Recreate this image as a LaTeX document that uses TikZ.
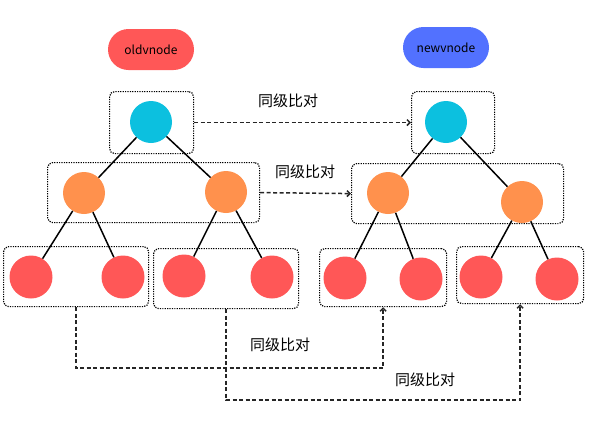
\documentclass[tikz,border=0pt]{standalone}
\usepackage{fontspec}
\setmainfont{Noto Sans CJK SC}
\usetikzlibrary{arrows.meta}
\definecolor{cred}{HTML}{FF5757}
\definecolor{cblue}{HTML}{5271FF}
\definecolor{corange}{HTML}{FF914D}
\definecolor{ccyan}{HTML}{0CC0DF}
\tikzset{
  pill/.style={draw=none, rounded corners=20.5pt, minimum width=86pt, minimum height=41pt, inner sep=0pt, font=\fontsize{12}{14}\selectfont},
  dotbox/.style={draw=black, line width=1.2pt, dash pattern=on 1.2pt off 1.2pt, rounded corners=5pt, anchor=north west, inner sep=0pt},
  dot/.style={circle, draw=none, inner sep=0pt, minimum size=42pt},
  leaf/.style={circle, fill=cred, draw=none, inner sep=0pt, minimum size=43pt},
  tedge/.style={line width=1.5pt, black},
  cmp/.style={line width=1.5pt, black!85, dash pattern=on 4pt off 2.5pt, -{Straight Barb[length=3pt,width=6pt]}},
  lbl/.style={font=\fontsize{15}{17}\selectfont, inner sep=0pt}
}
\begin{document}
\begin{tikzpicture}[x=1pt,y=-1pt]
\useasboundingbox (0,0) rectangle (589,421);
% pills
\node[pill, fill=cred] (old) at (151,49.5) {oldvnode};
\node[pill, fill=cblue] (new) at (446,47.5) {newvnode};
% dotted boxes
\node[dotbox, minimum width=84pt, minimum height=62pt] (rb1) at (109,91) {};
\node[dotbox, minimum width=212pt, minimum height=60pt] (lb1) at (47,162) {};
\node[dotbox, minimum width=83pt, minimum height=62pt] (rb2) at (411,91) {};
\node[dotbox, minimum width=212pt, minimum height=60pt] (lb2) at (351,163) {};
\node[dotbox, minimum width=145pt, minimum height=60pt] (b1) at (3,246) {};
\node[dotbox, minimum width=145pt, minimum height=60pt] (b2) at (153,248) {};
\node[dotbox, minimum width=127pt, minimum height=58pt] (b3) at (319,248) {};
\node[dotbox, minimum width=127pt, minimum height=57pt] (b4) at (456,246) {};
% old tree
\node[dot, fill=ccyan] (or) at (151,122) {};
\node[dot, fill=corange] (oa) at (84,193) {};
\node[dot, fill=corange] (ob) at (226,192) {};
\node[leaf] (l1) at (31,277) {};
\node[leaf] (l2) at (123,277) {};
\node[leaf] (l3) at (184,276) {};
\node[leaf] (l4) at (272,277) {};
% new tree
\node[dot, fill=ccyan] (nr) at (446,122) {};
\node[dot, fill=corange] (na) at (388,193) {};
\node[dot, fill=corange] (nb) at (522,202) {};
\node[leaf] (l5) at (345,278) {};
\node[leaf] (l6) at (421,279) {};
\node[leaf] (l7) at (481,277) {};
\node[leaf] (l8) at (557,279) {};
% tree edges
\draw[tedge] (or) -- (oa);
\draw[tedge] (or) -- (ob);
\draw[tedge] (oa) -- (l1);
\draw[tedge] (oa) -- (l2);
\draw[tedge] (ob) -- (l3);
\draw[tedge] (ob) -- (l4);
\draw[tedge] (nr) -- (na);
\draw[tedge] (nr) -- (nb);
\draw[tedge] (na) -- (l5);
\draw[tedge] (na) -- (l6);
\draw[tedge] (nb) -- (l7);
\draw[tedge] (nb) -- (l8);
% comparison connectors
\draw[cmp] (rb1.east) -- (rb2.west);
\draw[cmp] (lb1.east) -- (lb2.west);
\draw[cmp] (b1.south) -- ++(0,61) -| (b3.south);
\draw[cmp] (b2.south) -- ++(0,91) -| (b4.south);
% labels
\node[lbl] (t1) at (288,101) {同级比对};
\node[lbl] (t2) at (305,172) {同级比对};
\node[lbl] (t3) at (280,345) {同级比对};
\node[lbl] (t4) at (425,380) {同级比对};
\end{tikzpicture}
\end{document}
